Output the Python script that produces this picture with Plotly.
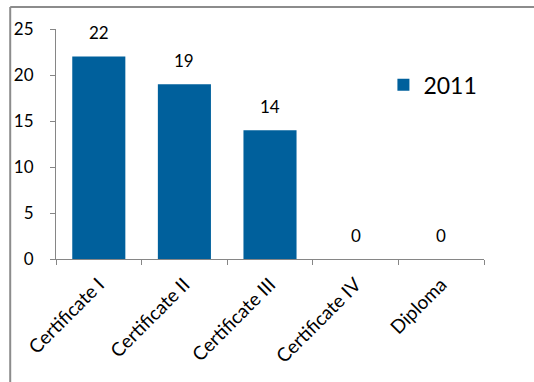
import plotly.graph_objects as go

# Enrolments by qualification level, 2011
categories = ["Certificate I", "Certificate II", "Certificate III", "Certificate IV", "Diploma"]
values_2011 = [22, 19, 14, 0, 0]
series_name = "2011"
y_ticks = [0, 5, 10, 15, 20, 25]

BAR_COLOR = "#00609C"
AXIS_COLOR = "#868686"
FONT = "Lato, 'Open Sans', sans-serif"

fig = go.Figure()
fig.add_trace(go.Bar(
    x=categories,
    y=values_2011,
    name=series_name,
    marker=dict(color=BAR_COLOR, line=dict(width=0)),
))

# Value labels above each bar
for cat, val in zip(categories, values_2011):
    fig.add_annotation(
        x=cat, y=val, text=str(val), showarrow=False,
        yanchor="middle", yshift=24,
        font=dict(family=FONT, size=17, color="black"),
    )

# Chart-area frame (top and left edges)
fig.add_shape(type="line", xref="paper", yref="paper",
              x0=-0.107, x1=1.2, y0=1.096, y1=1.096,
              line=dict(color="#8c8c8c", width=2))
fig.add_shape(type="line", xref="paper", yref="paper",
              x0=-0.107, x1=-0.107, y0=1.096, y1=-1.0,
              line=dict(color="#8c8c8c", width=2))

fig.update_layout(
    width=534, height=382,
    margin=dict(l=56, r=50, t=29, b=123),
    paper_bgcolor="white", plot_bgcolor="white",
    bargap=0.38,
    showlegend=True,
    legend=dict(x=0.765, y=0.757, xanchor="left", yanchor="middle",
                font=dict(family=FONT, size=23, color="black"),
                itemwidth=30, bgcolor="rgba(0,0,0,0)"),
    font=dict(family=FONT, size=17, color="black"),
)
fig.update_xaxes(
    showline=True, linecolor=AXIS_COLOR, linewidth=1,
    ticks="outside", tickson="boundaries", ticklen=5, tickcolor=AXIS_COLOR,
    tickangle=-45, tickfont=dict(family=FONT, size=19, color="black"),
    ticklabelstandoff=6,
    showgrid=False,
)
fig.update_yaxes(
    range=[0, 25], tickvals=y_ticks,
    showline=True, linecolor=AXIS_COLOR, linewidth=1,
    ticks="outside", ticklen=5, tickcolor=AXIS_COLOR,
    tickfont=dict(family=FONT, size=17, color="black"),
    ticklabelstandoff=13,
    showgrid=False, zeroline=False,
)

fig.write_html("out.html")
